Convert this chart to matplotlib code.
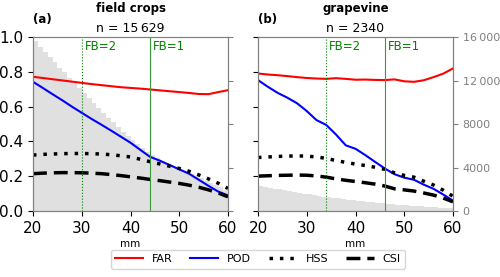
import numpy as np
import matplotlib
matplotlib.use("Agg")
import matplotlib.pyplot as plt

# thresholds (mm)
thr = np.arange(20, 61, 2)
hist_edges = np.arange(20, 60, 1)

# field crops
far_a = [0.772, 0.765, 0.758, 0.751, 0.744, 0.737, 0.730, 0.724, 0.718, 0.712, 0.708,
         0.704, 0.699, 0.694, 0.689, 0.684, 0.679, 0.673, 0.672, 0.684, 0.695]
pod_a = [0.743, 0.708, 0.672, 0.637, 0.600, 0.565, 0.530, 0.497, 0.463, 0.428, 0.393,
         0.352, 0.312, 0.290, 0.265, 0.240, 0.215, 0.180, 0.145, 0.112, 0.090]
hss_a = [0.322, 0.326, 0.328, 0.330, 0.331, 0.331, 0.330, 0.328, 0.324, 0.318, 0.311,
         0.298, 0.284, 0.271, 0.258, 0.245, 0.229, 0.208, 0.185, 0.160, 0.130]
csi_a = [0.215, 0.218, 0.220, 0.221, 0.221, 0.220, 0.218, 0.215, 0.210, 0.204, 0.197,
         0.190, 0.182, 0.175, 0.167, 0.159, 0.149, 0.137, 0.122, 0.104, 0.082]
count_a = [15629, 15100, 14650, 14200, 13700, 13200, 12750, 12250, 11800, 11300,
           10850, 10400, 9950, 9500, 9050, 8600, 8150, 7750, 7300, 6900,
           6500, 6150, 5800, 5450, 5150, 4900, 4650, 4400, 4200, 4000,
           3800, 3600, 3400, 3200, 3000, 2800, 2600, 2400, 2200, 1900]

# grapevine
far_b = [0.791, 0.785, 0.781, 0.776, 0.770, 0.765, 0.762, 0.760, 0.764, 0.760, 0.755,
         0.756, 0.754, 0.753, 0.757, 0.746, 0.743, 0.752, 0.770, 0.790, 0.820]
pod_b = [0.753, 0.715, 0.680, 0.652, 0.620, 0.575, 0.523, 0.495, 0.440, 0.378, 0.358,
         0.322, 0.283, 0.245, 0.212, 0.192, 0.180, 0.152, 0.128, 0.095, 0.060]
hss_b = [0.308, 0.311, 0.314, 0.316, 0.317, 0.316, 0.311, 0.303, 0.290, 0.280, 0.270,
         0.262, 0.252, 0.240, 0.220, 0.205, 0.195, 0.172, 0.150, 0.120, 0.085]
csi_b = [0.201, 0.203, 0.205, 0.206, 0.207, 0.206, 0.202, 0.195, 0.185, 0.177, 0.170,
         0.163, 0.155, 0.144, 0.128, 0.122, 0.115, 0.104, 0.092, 0.075, 0.053]
count_b = [2340, 2250, 2160, 2070, 1990, 1910, 1830, 1750, 1680, 1610,
           1540, 1470, 1400, 1340, 1280, 1220, 1160, 1100, 1050, 1000,
           950, 900, 850, 800, 760, 720, 680, 640, 600, 560,
           530, 500, 470, 440, 410, 380, 350, 320, 290, 260]

panels = [
    ("(a)", "field crops", "n = 15\u2009629", far_a, pod_a, hss_a, csi_a, count_a, 30, 44, False),
    ("(b)", "grapevine", "n = 2340", far_b, pod_b, hss_b, csi_b, count_b, 34, 46, True),
]

fig = plt.figure(figsize=(5, 2.77), dpi=100)
lefts = [0.066, 0.516]
handles = None
for (tag, title, ntxt, far, pod, hss, csi, cnt, fb2, fb1, rlabels), l in zip(panels, lefts):
    ax = fig.add_axes([l, 0.238, 0.39, 0.628])
    ax2 = ax.twinx()
    ax2.bar(hist_edges, cnt, width=1, align="edge", color="#e0e0e0", linewidth=0)
    ax2.set_ylim(0, 16000)
    ax2.set_yticks([0, 4000, 8000, 12000, 16000])
    if rlabels:
        ax2.set_yticklabels(["0", "4000", "8000", "12\u2009000", "16\u2009000"])
    else:
        ax2.set_yticklabels([])
    ax2.tick_params(axis="y", colors="grey", labelsize=8, length=3.5)
    ax.set_zorder(ax2.get_zorder() + 1)
    ax.patch.set_visible(False)

    h1, = ax.plot(thr, far, color="red", lw=1.5, label="FAR")
    h2, = ax.plot(thr, pod, color="blue", lw=1.5, label="POD")
    h3, = ax.plot(thr, hss, color="black", lw=2.5, ls=(0, (1, 2)), label="HSS")
    h4, = ax.plot(thr, csi, color="black", lw=2.5, ls=(0, (4, 2)), label="CSI")
    handles = [h1, h2, h3, h4]

    ax.axvline(fb2, color="green", lw=0.8, ls=":")
    ax.axvline(fb1, color="#3a9a3a", lw=0.8)
    ax.text(fb2 + 0.6, 0.985, "FB=2", color="green", fontsize=8.5, va="top")
    ax.text(fb1 + 0.6, 0.985, "FB=1", color="green", fontsize=8.5, va="top")

    ax.set_xlim(20, 60)
    ax.set_ylim(0, 1)
    ax.set_xticks([20, 30, 40, 50, 60])
    ax.set_yticks([0, 0.2, 0.4, 0.6, 0.8, 1.0])
    ax.tick_params(labelsize=11, length=3.5)
    if l > 0.3:
        ax.set_yticklabels([])
    ax.set_xlabel("mm", fontsize=7.5, labelpad=2)
    for a in (ax, ax2):
        for s in a.spines.values():
            s.set_color("grey")

    ax.text(0.5, 1.048, ntxt, transform=ax.transAxes, ha="center", va="center",
            fontsize=9)
    ax.text(0.5, 1.165, title, transform=ax.transAxes, ha="center", va="center",
            fontsize=8.5, fontweight="bold")
    ax.text(0.0, 1.1, tag, transform=ax.transAxes, ha="left", va="center",
            fontsize=8.5, fontweight="bold")

fig.legend(handles, ["FAR", "POD", "HSS", "CSI"], loc="lower center",
           bbox_to_anchor=(0.516, 0.01), ncol=4, fontsize=8, frameon=True,
           handlelength=2.5, columnspacing=1.6, borderpad=0.4)

fig.savefig("out.png", dpi=100)
